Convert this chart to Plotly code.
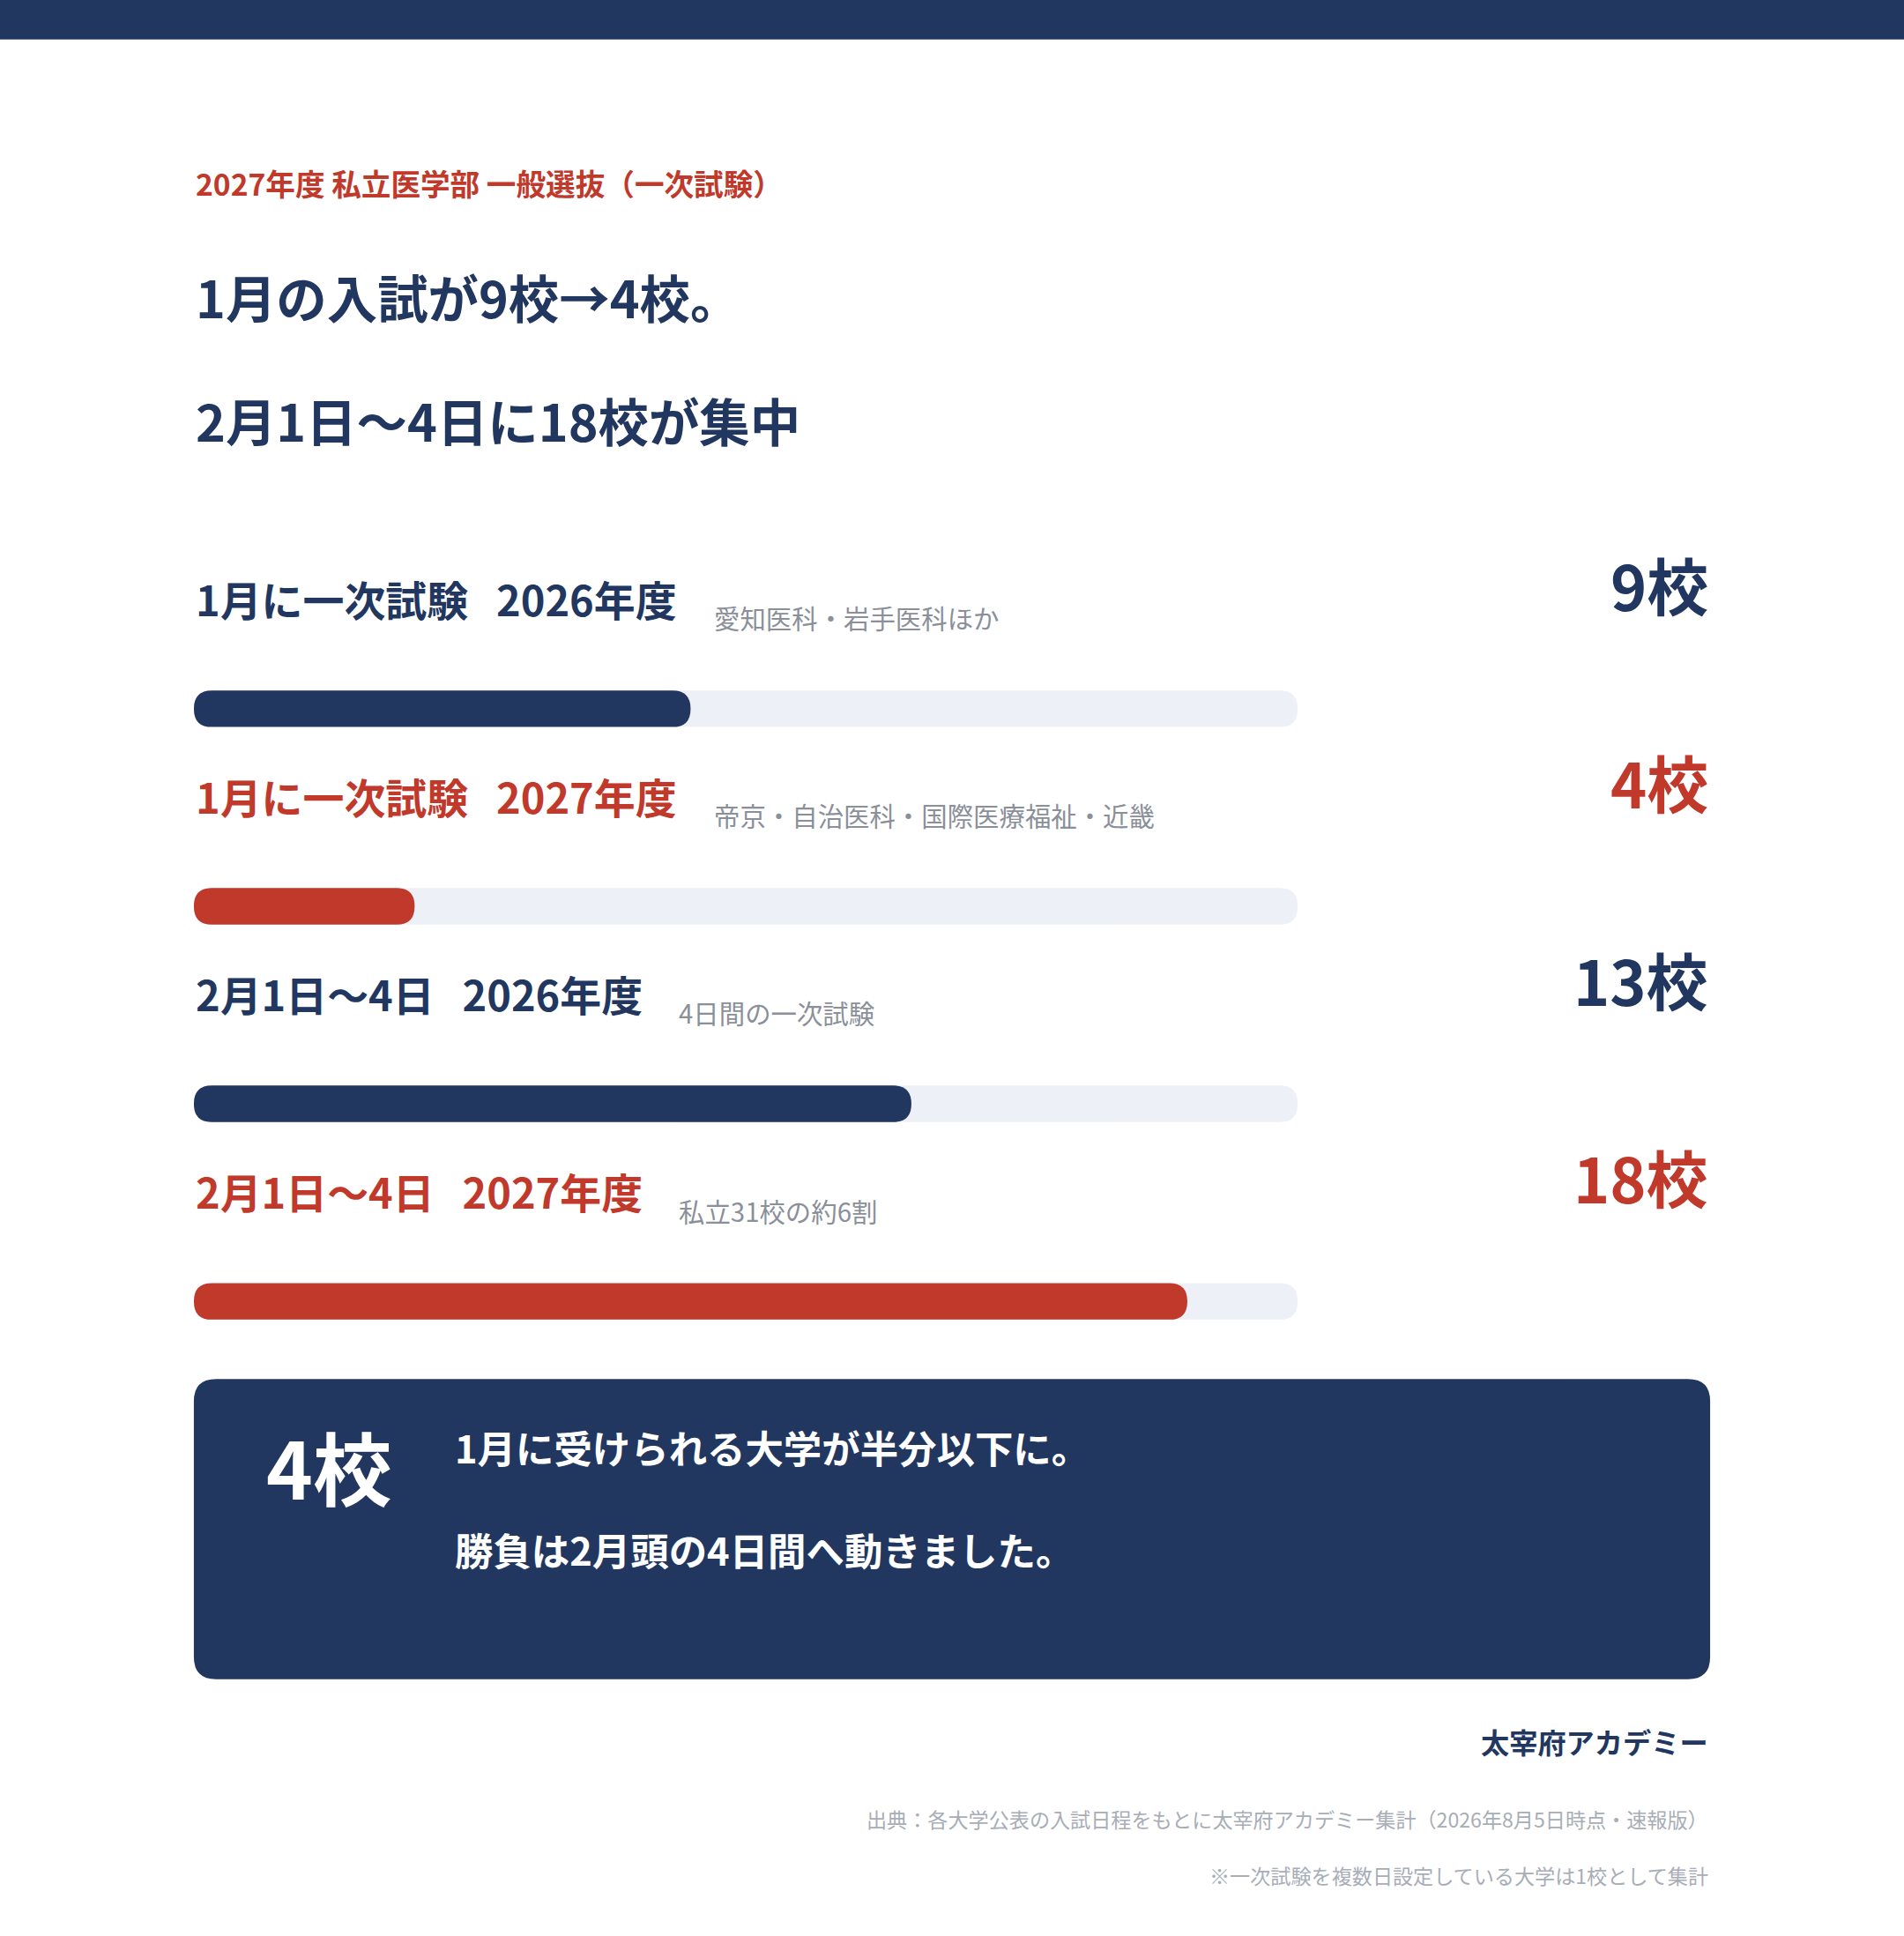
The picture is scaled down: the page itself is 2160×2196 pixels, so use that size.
import plotly.graph_objects as go

W, H = 2160, 2196
RW, RH = 1542, 1568  # reference layout units
S = W / RW

NAVY = "#21375F"
RED = "#C0392B"
TRACK = "#EDF0F7"
GRAY = "#8A8F99"
FONT = "Noto Sans CJK JP"

GAP = "&nbsp;" * 3
labels = [f"1月に一次試験{GAP}2026年度", f"1月に一次試験{GAP}2027年度",
          f"2月1日〜4日{GAP}2026年度", f"2月1日〜4日{GAP}2027年度"]
notes = ["愛知医科・岩手医科ほか", "帝京・自治医科・国際医療福祉・近畿",
         "4日間の一次試験", "私立31校の約6割"]
values = [9, 4, 13, 18]
colors = [NAVY, RED, NAVY, RED]
max_value = 20
rows = [0, 1, 2, 3]


def px(x):
    return x / RW


def py(y):
    return 1 - y / RH


fig = go.Figure()
# invisible trace to set up the axes
fig.add_trace(go.Scatter(x=values, y=rows, mode="markers", marker=dict(opacity=0),
                         hoverinfo="skip"))

fig.update_layout(
    width=W, height=H, margin=dict(l=0, r=0, t=0, b=0),
    paper_bgcolor="white", plot_bgcolor="white",
    showlegend=False, font=dict(family=FONT),
    xaxis=dict(domain=[px(157), px(1051)], range=[0, max_value], visible=False, fixedrange=True),
    yaxis=dict(domain=[py(1100), py(530)], range=[3.2875, -0.275], visible=False, fixedrange=True),
)

shapes = [dict(type="rect", xref="paper", yref="paper", x0=0, x1=1, y0=py(32), y1=1,
               fillcolor=NAVY, line_width=0, layer="below")]

# rounded pill bars in data coordinates
half_h = 0.0925                         # half bar thickness in row units
cap = 14.5 / (894 / max_value)          # cap radius in value units


def pill(x0, x1, yc, color):
    a, b = yc - half_h, yc + half_h
    p = (f"M{x0+cap},{a} L{x1-cap},{a} Q{x1},{a} {x1},{yc} Q{x1},{b} {x1-cap},{b} "
         f"L{x0+cap},{b} Q{x0},{b} {x0},{yc} Q{x0},{a} {x0+cap},{a} Z")
    return dict(type="path", xref="x", yref="y", path=p, fillcolor=color, line_width=0)


for r, v, c in zip(rows, values, colors):
    shapes.append(pill(0, max_value, r, TRACK))
    shapes.append(pill(0, v, r, c))

# rounded summary box
x0, x1, y0, y1 = px(157), px(1385), py(1360), py(1117)
rx, ry = px(18), 18 / RH
path = (f"M{x0+rx},{y1} L{x1-rx},{y1} Q{x1},{y1} {x1},{y1-ry} L{x1},{y0+ry} "
        f"Q{x1},{y0} {x1-rx},{y0} L{x0+rx},{y0} Q{x0},{y0} {x0},{y0+ry} "
        f"L{x0},{y1-ry} Q{x0},{y1} {x0+rx},{y1} Z")
shapes.append(dict(type="path", xref="paper", yref="paper", path=path,
                   fillcolor=NAVY, line_width=0))
fig.update_layout(shapes=shapes)


def text(x, y, t, size, color, xanchor="left", weight="bold"):
    fig.add_annotation(xref="paper", yref="paper", x=px(x), y=py(y), text=t,
                       showarrow=False, xanchor=xanchor, yanchor="middle",
                       font=dict(size=size * S, color=color, family=FONT, weight=weight))


text(157, 148, "2027年度 私立医学部 一般選抜（一次試験）", 24, RED)
text(157, 240, "1月の入試が9校→4校。", 41, NAVY)
text(157, 340, "2月1日〜4日に18校が集中", 41, NAVY)

label_x_notes = [577, 577, 548, 548]
for i in rows:
    yc = 485 + 160 * i
    text(157, yc, labels[i], 33.5, colors[i])
    text(label_x_notes[i], yc + 15, notes[i], 21, GRAY, weight="normal")
    text(1385, yc - 12, f"{values[i]}校", 50, colors[i], xanchor="right")

text(214, 1187, "4校", 64, "white")
text(367, 1172, "1月に受けられる大学が半分以下に。", 31, "white")
text(367, 1255, "勝負は2月頭の4日間へ動きました。", 31, "white")

text(1385, 1410, "太宰府アカデミー", 23, NAVY, xanchor="right")
text(1385, 1473, "出典：各大学公表の入試日程をもとに太宰府アカデミー集計（2026年8月5日時点・速報版）",
     16.5, "#A8ADB7", xanchor="right", weight="normal")
text(1385, 1519, "※一次試験を複数日設定している大学は1校として集計",
     16.5, "#A8ADB7", xanchor="right", weight="normal")

fig.write_html("out.html", config={"displayModeBar": False},
               post_script="document.body.style.margin='0';")
